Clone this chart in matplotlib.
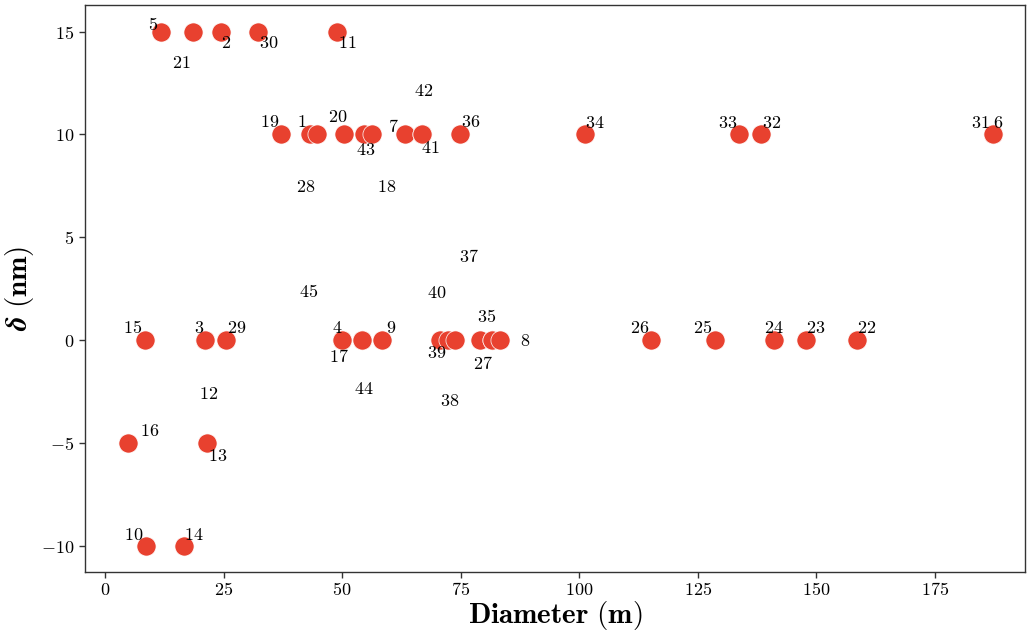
import matplotlib
matplotlib.use("Agg")
import matplotlib.pyplot as plt
from matplotlib.ticker import FuncFormatter

plt.rcParams['mathtext.fontset'] = 'cm'
plt.rcParams['font.family'] = ['DejaVu Serif']

# ---- data ----
ids = [5, 21, 2, 30, 11,
       19, 1, 28, 20, 43, 18, 7, 41, 42, 36, 34, 33, 32, 31, 6,
       15, 3, 12, 29, 4, 45, 17, 44, 9, 39, 40, 38, 35, 37, 27, 8, 26, 25, 24, 23, 22,
       16, 13, 10, 14]
diameter = [11.8, 18.55, 24.5, 32.3, 48.9,
            37.0, 43.2, 44.6, 50.4, 54.6, 56.2, 63.3, 66.8, 66.8, 74.8, 101.2, 133.7, 138.3, 187.2, 187.2,
            8.4, 21.1, 21.1, 25.5, 50.0, 50.0, 54.1, 54.1, 58.3, 70.6, 72.4, 73.8, 79.1, 81.5, 81.5, 83.3,
            115.1, 128.6, 141.0, 147.7, 158.5,
            4.9, 21.5, 8.6, 16.6]
delta = [15, 15, 15, 15, 15,
         10, 10, 10, 10, 10, 10, 10, 10, 10, 10, 10, 10, 10, 10, 10,
         0, 0, 0, 0, 0, 0, 0, 0, 0, 0, 0, 0, 0, 0, 0, 0, 0, 0, 0, 0, 0,
         -5, -5, -10, -10]
# label placement (data coordinates, after overlap avoidance)
label_x = [10.06, 16.17, 25.45, 34.43, 51.17,
           34.64, 41.47, 42.38, 49.06, 55.03, 59.39, 60.79, 68.67, 67.11, 77.10, 103.31, 131.21, 140.56, 184.48, 188.35,
           5.84, 19.88, 21.93, 27.83, 48.98, 43.01, 49.27, 54.61, 60.30, 69.93, 69.93, 72.74, 80.48, 76.74, 79.76, 88.55,
           112.65, 125.93, 140.90, 149.76, 160.59,
           9.49, 23.68, 5.97, 18.62]
label_y = [15.32, 13.49, 14.43, 14.43, 14.43,
           10.59, 10.59, 7.46, 10.86, 9.24, 7.46, 10.38, 9.32, 12.13, 10.59, 10.57, 10.57, 10.57, 10.57, 10.57,
           0.57, 0.57, -2.63, 0.57, 0.57, 2.35, -0.81, -2.40, 0.57, -0.65, 2.30, -2.97, 1.10, 4.05, -1.18, -0.05,
           0.57, 0.57, 0.57, 0.57, 0.57,
           -4.43, -5.64, -9.48, -9.48]
x_ticks = [0, 25, 50, 75, 100, 125, 150, 175]
y_ticks = [-10, -5, 0, 5, 10, 15]

fig = plt.figure(figsize=(10.27, 6.30), dpi=100)
ax = fig.add_axes([85/1027, 58/630, 940/1027, 567/630])

ax.scatter(diameter, delta, s=190, color='#e8412f', edgecolor='white', linewidth=0.5, zorder=3)
for i, lx, ly in zip(ids, label_x, label_y):
    ax.text(lx, ly, r'$\mathbf{%d}$' % i, ha='center', va='center', fontsize=13, zorder=4)

ax.set_xlim(-4.22, 193.97)
ax.set_ylim(-11.28, 16.29)
ax.set_xticks(x_ticks)
ax.set_yticks(y_ticks)
fmt = FuncFormatter(lambda v, p: r'$\mathbf{%d}$' % v)
ax.xaxis.set_major_formatter(fmt)
ax.yaxis.set_major_formatter(fmt)
ax.tick_params(labelsize=13, length=4, width=1, colors='#333333', labelcolor='black')
ax.tick_params(axis='x', pad=2.5)
for s in ax.spines.values():
    s.set_color('#333333')
    s.set_linewidth(1.0)

ax.set_xlabel(r'$\mathbf{Diameter\ (m)}$', fontsize=21, labelpad=0)
ax.set_ylabel(r'$\boldsymbol{\delta}\ \mathbf{(nm)}$', fontsize=21, labelpad=4)

fig.savefig('out.png', dpi=100)
